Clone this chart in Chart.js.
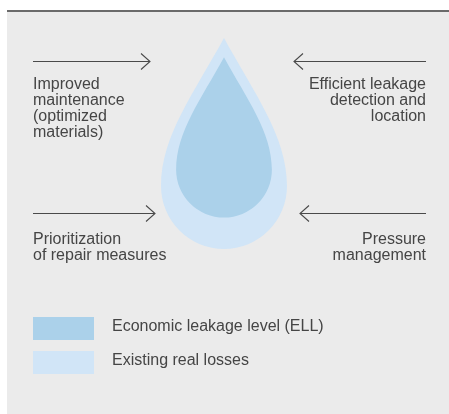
<!DOCTYPE html>
<html>
<head>
<meta charset="utf-8">
<script src="https://cdn.jsdelivr.net/npm/chart.js@4.4.1/dist/chart.umd.min.js"></script>
<style>
  html, body { margin: 0; padding: 0; background: #fff; }
  canvas { display: block; }
</style>
</head>
<body>
<canvas id="leakage-chart" width="449" height="414"></canvas>
<script>
// Data
const dropLabels = ['Existing real losses', 'Economic leakage level (ELL)'];
const dropLevels = [100, 76];            // size of each drop, % of existing real losses
const legendOrder = [1, 0];              // ELL listed first
const factorLabels = [
    ['Improved', 'maintenance', '(optimized', 'materials)'],
    ['Efficient leakage', 'detection and', 'location'],
    ['Prioritization', 'of repair measures'],
    ['Pressure', 'management']
];

// Styling / layout
const dropColors = ['#d1e5f7', '#abd1ea'];
const textColor = '#454545';
const font = '16px "Liberation Sans", Arial, Helvetica, sans-serif';
const factorSlots = [
    { from: 33, to: 150, y: 61, textY: 88.5, align: 'left', x: 33 },
    { from: 426, to: 294, y: 61, textY: 88.5, align: 'right', x: 426 },
    { from: 33, to: 155, y: 213, textY: 244, align: 'left', x: 33 },
    { from: 426, to: 300, y: 213, textY: 244, align: 'right', x: 426 }
];
const drop = { cx: 224, anchorY: 118, bottom: 249, radius: 63 };

const leakageChart = (function () {

    function dropPath(ctx, cx, cy, r) {
        const tipY = cy - 2.349 * r;
        ctx.beginPath();
        ctx.moveTo(cx, tipY);
        ctx.bezierCurveTo(cx + 0.476 * r, tipY + 0.873 * r, cx + r, tipY + 1.556 * r, cx + r, cy);
        ctx.arc(cx, cy, r, 0, Math.PI, false);
        ctx.bezierCurveTo(cx - r, tipY + 1.556 * r, cx - 0.476 * r, tipY + 0.873 * r, cx, tipY);
        ctx.closePath();
    }

    function drawArrow(ctx, x0, x1, y) {
        const dir = x1 > x0 ? 1 : -1;
        ctx.beginPath();
        ctx.moveTo(x0, y + 0.5);
        ctx.lineTo(x1, y + 0.5);
        ctx.moveTo(x1 - dir * 9, y - 7.5);
        ctx.lineTo(x1, y + 0.5);
        ctx.lineTo(x1 - dir * 9, y + 8.5);
        ctx.stroke();
    }

    const diagramPlugin = {
        id: 'diagram',
        beforeDraw(chart) {
            const ctx = chart.ctx;
            ctx.save();
            ctx.fillStyle = '#ffffff';
            ctx.fillRect(0, 0, chart.width, chart.height);
            ctx.fillStyle = '#ebebeb';
            ctx.fillRect(7, 10, chart.width - 7, chart.height - 10);
            ctx.fillStyle = '#6a6a6a';
            ctx.fillRect(7, 10, chart.width - 7, 2);
            ctx.restore();
        },
        afterDraw(chart) {
            const ctx = chart.ctx;
            const xs = chart.scales.x;
            const ys = chart.scales.y;
            ctx.save();

            // drops, largest first
            dropLevels.forEach(function (level, i) {
                const k = level / 100;
                const r = drop.radius * k;
                const bottom = drop.anchorY + (drop.bottom - drop.anchorY) * k;
                const cx = xs.getPixelForValue(drop.cx);
                const cy = ys.getPixelForValue(bottom - r);
                const rPx = xs.getPixelForValue(drop.cx + r) - cx;
                ctx.fillStyle = dropColors[i];
                dropPath(ctx, cx, cy, rPx);
                ctx.fill();
            });

            // arrows and factor texts
            ctx.strokeStyle = '#4a4a4a';
            ctx.lineWidth = 1.1;
            ctx.font = font;
            ctx.fillStyle = textColor;
            ctx.textBaseline = 'alphabetic';
            factorLabels.forEach(function (lines, i) {
                const s = factorSlots[i];
                drawArrow(ctx, s.from, s.to, s.y);
                ctx.textAlign = s.align;
                lines.forEach(function (line, j) {
                    ctx.fillText(line, s.x, s.textY + j * 16);
                });
            });

            // legend
            ctx.textAlign = 'left';
            legendOrder.forEach(function (idx, j) {
                const y = 317 + j * 34;
                ctx.fillStyle = dropColors[idx];
                ctx.fillRect(33, y, 61, 23);
                ctx.fillStyle = textColor;
                ctx.fillText(dropLabels[idx], 112, y + 13.5);
            });

            ctx.restore();
        }
    };

    function config(ele) {
        const config = {
            type: 'scatter',
            data: {
                datasets: dropLabels.map(function (label, i) {
                    return {
                        label: label,
                        data: [],
                        backgroundColor: dropColors[i]
                    };
                })
            },
            options: {
                responsive: false,
                animation: false,
                layout: { padding: 0 },
                plugins: {
                    legend: { display: false },
                    tooltip: { enabled: false }
                },
                scales: {
                    x: { type: 'linear', min: 0, max: 449, display: false },
                    y: { type: 'linear', min: 0, max: 414, reverse: true, display: false }
                }
            },
            plugins: [diagramPlugin]
        };

        return new Chart(ele, config);
    }

    return {
        configureChart: function () {
            config(document.getElementById('leakage-chart'));
        }
    };
})();

leakageChart.configureChart();
</script>
</body>
</html>
